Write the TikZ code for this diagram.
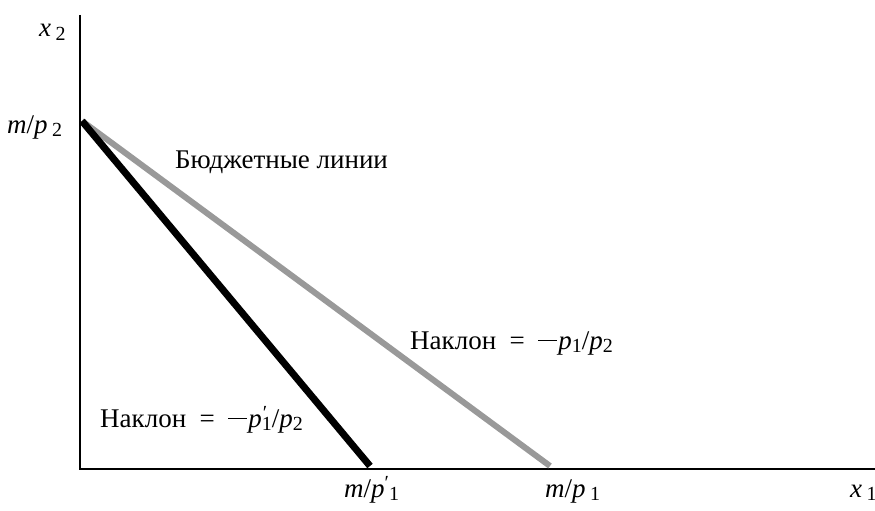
\documentclass[tikz,border=0pt]{standalone}
\usepackage{fontspec}
\setmainfont{Liberation Serif}
\newcommand\lsub[1]{\raisebox{-0.3ex}{\fontsize{20}{21}\selectfont #1}}
\newcommand\lprime{\raisebox{0.6ex}{\fontsize{20}{21}\selectfont\char"2032}}
\newcommand\lprsub[1]{\rlap{\kern1pt\raisebox{0.6ex}{\fontsize{20}{21}\selectfont\char"2032}}\raisebox{-0.3ex}{\fontsize{20}{21}\selectfont #1}}
\newcommand\lminus{\raisebox{0.3em}{\rule{19pt}{1.2pt}}\kern1pt}
\begin{document}
\begin{tikzpicture}[x=1pt,y=-1pt,
  lbl/.style={inner sep=0pt, font=\fontsize{27}{31}\selectfont},
  axis/.style={line width=2.5pt, black},
  budgetA/.style={line width=6pt, black!40},
  budgetB/.style={line width=7pt, black}]
\useasboundingbox (0,0) rectangle (875,511);
\coordinate (O) at (80,469);
\coordinate (ytop) at (80,15);
\coordinate (xend) at (875,469);
\coordinate (A) at (82,121);
\coordinate (B) at (550,466);
\coordinate (C) at (370,466);
\draw[axis] (ytop) -- (O) -- (xend);
\draw[budgetA] (A) -- (B);
\draw[budgetB] (A) -- (C);
\node[lbl, anchor=base west] (lx2) at (39,37) {\textit{x}\,\lsub{2}};
\node[lbl, anchor=base west] (lm2) at (7,133) {\textit{m}/\textit{p}\,\lsub{2}};
\node[lbl, anchor=base west] (lbud) at (175,168) {Бюджетные линии};
\node[lbl, anchor=base west] (lsA) at (410,349) {Наклон\ \ =\ \ \lminus\textit{p}\lsub{1}/\textit{p}\lsub{2}};
\node[lbl, anchor=base west] (lsB) at (100,427) {Наклон\ \ =\ \ \lminus\textit{p}\lprsub{1}/\textit{p}\lsub{2}};
\node[lbl, anchor=base west] (lm1p) at (344,497) {\textit{m}/\textit{p}\lprime\lsub{1}};
\node[lbl, anchor=base west] (lm1) at (545,497) {\textit{m}/\textit{p}\,\lsub{1}};
\node[lbl, anchor=base west] (lx1) at (850,497) {\textit{x}\,\lsub{1}};
\end{tikzpicture}
\end{document}
